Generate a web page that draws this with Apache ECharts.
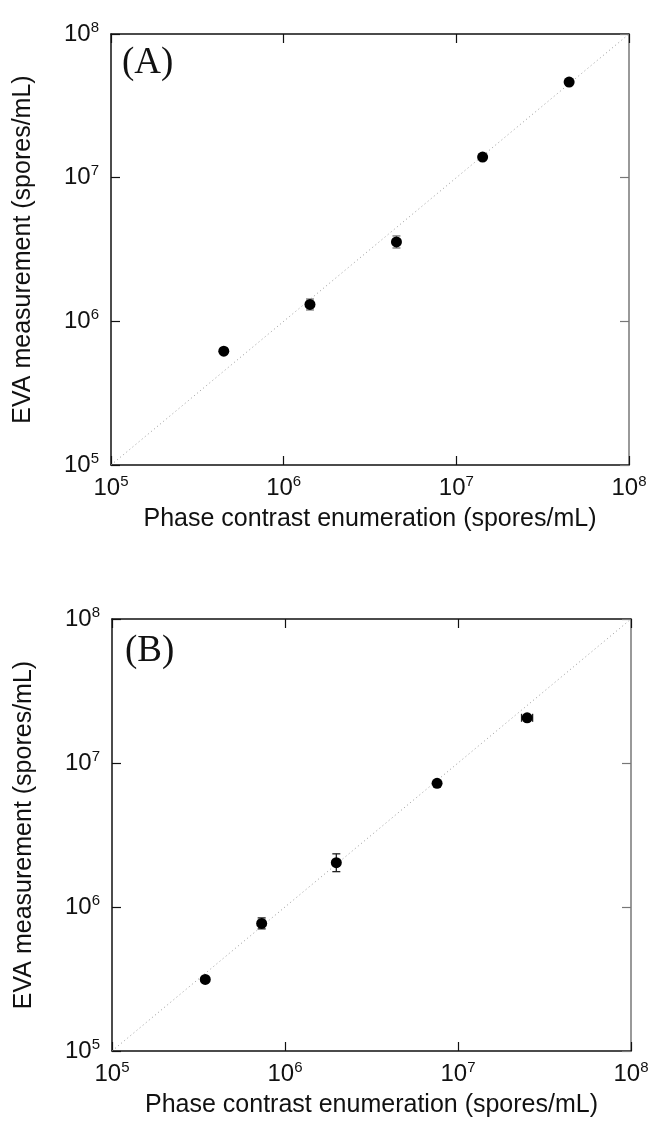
<!DOCTYPE html>
<html>
<head>
<meta charset="utf-8">
<script src="https://cdn.jsdelivr.net/npm/echarts@6/dist/echarts.min.js"></script>
<style>
html,body{margin:0;padding:0;background:#fff;}
#chart{width:652px;height:1123px;}
</style>
</head>
<body>
<div id="chart"></div>
<script>
// ---- Data ----
const panelLabels = ['(A)', '(B)'];
const xTitle = 'Phase contrast enumeration (spores/mL)';
const yTitle = 'EVA measurement (spores/mL)';
const tickExponents = [5, 6, 7, 8];

// Panel A
const aX = [4.5e5, 1.42e6, 4.5e6, 1.42e7, 4.5e7];
const aY = [6.2e5, 1.31e6, 3.57e6, 1.39e7, 4.63e7];
const aYLow = [null, 1.20e6, 3.24e6, null, null];
const aYHigh = [null, 1.43e6, 3.93e6, null, null];
const aXLow = [null, null, null, null, null];
const aXHigh = [null, null, null, null, null];

// Panel B
const bX = [3.46e5, 7.33e5, 1.98e6, 7.57e6, 2.51e7];
const bY = [3.14e5, 7.69e5, 2.03e6, 7.22e6, 2.06e7];
const bYLow = [null, 7.05e5, 1.76e6, 6.95e6, null];
const bYHigh = [null, 8.40e5, 2.34e6, 7.50e6, null];
const bXLow = [null, null, null, null, 2.33e7];
const bXHigh = [null, null, null, null, 2.70e7];

const identityLine = [[1e5, 1e5], [1e8, 1e8]];

// ---- Chart ----
const FONT = '"Liberation Sans", Arial, sans-serif';
const chart = echarts.init(document.getElementById('chart'));

const richLabel = {
  base: { fontSize: 24, fontFamily: FONT, color: '#111', lineHeight: 28 },
  sup: { fontSize: 15, fontFamily: FONT, color: '#111', verticalAlign: 'top', lineHeight: 16 }
};
function expFormatter(v) {
  const e = Math.round(Math.log10(v));
  if (tickExponents.indexOf(e) < 0) return '';
  return '{base|10}{sup|' + e + '}';
}

function mainX(gi) {
  return {
    gridIndex: gi, type: 'log', logBase: 10, min: 1e5, max: 1e8, position: 'bottom',
    name: xTitle, nameLocation: 'middle', nameGap: 42,
    nameTextStyle: { fontSize: 25, fontFamily: FONT, color: '#111' },
    axisLine: { show: true, lineStyle: { color: '#111', width: 1.5 } },
    axisTick: { show: true, inside: true, length: 9, lineStyle: { color: '#111', width: 1.2 } },
    minorTick: { show: false },
    splitLine: { show: false },
    axisLabel: { formatter: expFormatter, margin: 9, rich: richLabel }
  };
}
function topX(gi) {
  return {
    gridIndex: gi, type: 'log', logBase: 10, min: 1e5, max: 1e8, position: 'top',
    axisLine: { show: true, lineStyle: { color: '#111', width: 1.5 } },
    axisTick: { show: true, inside: true, length: 9, lineStyle: { color: '#111', width: 1.2 } },
    splitLine: { show: false }, axisLabel: { show: false }
  };
}
function mainY(gi) {
  return {
    gridIndex: gi, type: 'log', logBase: 10, min: 1e5, max: 1e8, position: 'left',
    name: yTitle, nameLocation: 'middle', nameGap: 75, nameRotate: 90,
    nameTextStyle: { fontSize: 25, fontFamily: FONT, color: '#111' },
    axisLine: { show: true, lineStyle: { color: '#111', width: 1.5 } },
    axisTick: { show: true, inside: true, length: 9, lineStyle: { color: '#111', width: 1.2 } },
    splitLine: { show: false },
    axisLabel: { formatter: expFormatter, margin: 12, rich: richLabel }
  };
}
function rightY(gi) {
  return {
    gridIndex: gi, type: 'log', logBase: 10, min: 1e5, max: 1e8, position: 'right',
    axisLine: { show: true, lineStyle: { color: '#777', width: 1.5 } },
    axisTick: { show: true, inside: true, length: 9, lineStyle: { color: '#777', width: 1.2 } },
    splitLine: { show: false }, axisLabel: { show: false }
  };
}

function zip(a, b) { return a.map((v, i) => [v, b[i]]); }
function errData(x, y, yl, yh, xl, xh) {
  return x.map((v, i) => [v, y[i], yl[i], yh[i], xl[i], xh[i]]);
}
function errSeries(xi, yi, data, color) {
  return {
    type: 'custom', xAxisIndex: xi, yAxisIndex: yi, z: 3,
    data: data,
    renderItem: function (params, api) {
      const x = api.value(0), y = api.value(1);
      const yl = api.value(2), yh = api.value(3), xl = api.value(4), xh = api.value(5);
      const children = [];
      const cap = 4;
      const style = { stroke: color, lineWidth: 1.3 };
      if (yl && yh && !isNaN(yl) && !isNaN(yh)) {
        const p1 = api.coord([x, yl]), p2 = api.coord([x, yh]);
        children.push({ type: 'line', shape: { x1: p1[0], y1: p1[1], x2: p2[0], y2: p2[1] }, style });
        children.push({ type: 'line', shape: { x1: p1[0] - cap, y1: p1[1], x2: p1[0] + cap, y2: p1[1] }, style });
        children.push({ type: 'line', shape: { x1: p2[0] - cap, y1: p2[1], x2: p2[0] + cap, y2: p2[1] }, style });
      }
      if (xl && xh && !isNaN(xl) && !isNaN(xh)) {
        const p1 = api.coord([xl, y]), p2 = api.coord([xh, y]);
        children.push({ type: 'line', shape: { x1: p1[0], y1: p1[1], x2: p2[0], y2: p2[1] }, style });
        children.push({ type: 'line', shape: { x1: p1[0], y1: p1[1] - cap, x2: p1[0], y2: p1[1] + cap }, style });
        children.push({ type: 'line', shape: { x1: p2[0], y1: p2[1] - cap, x2: p2[0], y2: p2[1] + cap }, style });
      }
      return { type: 'group', children };
    }
  };
}
function lineSeries(xi, yi) {
  return {
    type: 'line', xAxisIndex: xi, yAxisIndex: yi, data: identityLine, symbol: 'none', silent: true,
    lineStyle: { color: '#999', width: 1, type: [1, 3] }, z: 1
  };
}
function scatterSeries(xi, yi, data) {
  return {
    type: 'scatter', xAxisIndex: xi, yAxisIndex: yi, data: data, symbol: 'circle', symbolSize: 11,
    itemStyle: { color: '#000', opacity: 1 }, z: 4
  };
}

const option = {
  backgroundColor: '#fff',
  animation: false,
  grid: [
    { left: 111, top: 34, width: 518, height: 431, containLabel: false },
    { left: 112, top: 619, width: 519, height: 432, containLabel: false }
  ],
  xAxis: [mainX(0), topX(0), mainX(1), topX(1)],
  yAxis: [mainY(0), rightY(0), mainY(1), rightY(1)],
  graphic: [
    { type: 'text', left: 122, top: 45, style: { text: panelLabels[0], font: '37px "Liberation Serif", "Times New Roman", serif', fill: '#111' } },
    { type: 'text', left: 125, top: 633, style: { text: panelLabels[1], font: '37px "Liberation Serif", "Times New Roman", serif', fill: '#111' } }
  ],
  series: [
    lineSeries(0, 0),
    errSeries(0, 0, errData(aX, aY, aYLow, aYHigh, aXLow, aXHigh), '#777'),
    scatterSeries(0, 0, zip(aX, aY)),
    lineSeries(2, 2),
    errSeries(2, 2, errData(bX, bY, bYLow, bYHigh, bXLow, bXHigh), '#222'),
    scatterSeries(2, 2, zip(bX, bY))
  ]
};
chart.setOption(option);
</script>
</body>
</html>
